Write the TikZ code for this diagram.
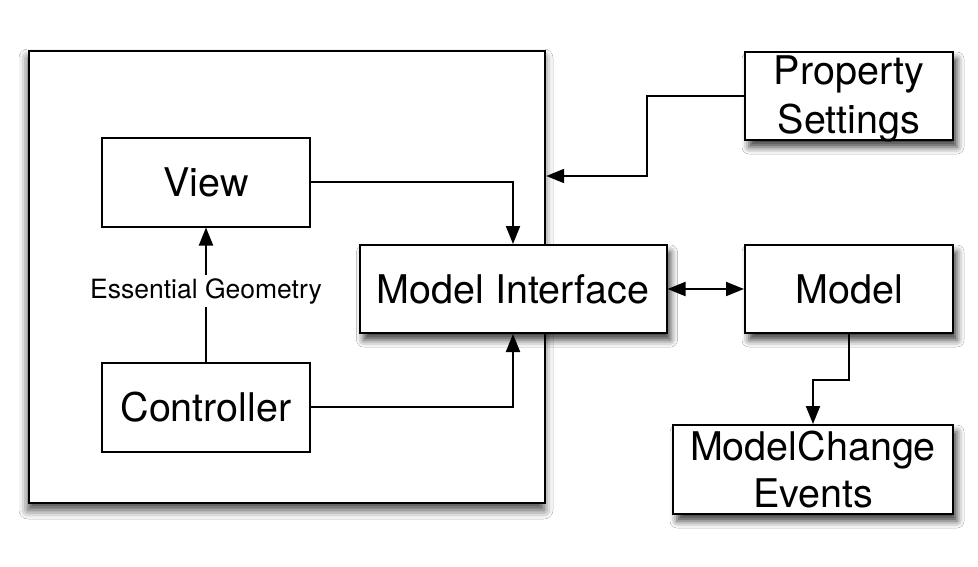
\documentclass[tikz,border=0pt]{standalone}
\usepackage{fontspec}
\setmainfont{TeX Gyre Heros}
\usetikzlibrary{arrows.meta,shadows.blur}
\begin{document}
\begin{tikzpicture}[x=1pt,y=-1pt]
\tikzset{
  blk/.style={draw=black, line width=2pt, fill=white, inner sep=0pt, align=center,
    font=\fontsize{39.5}{47}\selectfont},
  shd/.style={blur shadow={shadow xshift=4pt, shadow yshift=-7pt, shadow blur radius=7pt, shadow opacity=75}},
  conn/.style={line width=2pt},
  tip/.style={-{Triangle[length=18pt,width=14pt]}},
  dtip/.style={{Triangle[length=18pt,width=14pt]}-{Triangle[length=18pt,width=14pt]}},
  lbl/.style={fill=white, inner sep=3pt, font=\fontsize{26.5}{30}\selectfont}
}
\useasboundingbox (0,0) rectangle (978,566);
\fill[white] (0,0) rectangle (978,566);

\node[draw=black, line width=2.4pt, fill=white, minimum width=516pt, minimum height=452pt,
  blur shadow={shadow xshift=-1pt, shadow yshift=-7pt, shadow blur radius=9pt, shadow opacity=75}]
  (outer) at (287,277) {};

\node[blk, minimum width=208pt, minimum height=89pt] (view) at (206,182) {View};
\node[blk, minimum width=208pt, minimum height=89pt] (ctrl) at (206,407) {Controller};
\node[blk, shd, minimum width=307pt, minimum height=88pt] (mi) at (513,289) {Model Interface};
\node[blk, shd, minimum width=208pt, minimum height=88pt, font=\fontsize{39.5}{49}\selectfont,
  text depth=2pt] (ps) at (849,96) {Property\\Settings};
\node[blk, shd, minimum width=208pt, minimum height=88pt] (model) at (849,289) {Model};
\node[blk, shd, minimum width=280pt, minimum height=89pt] (mce) at (813,469.5) {ModelChange\\Events};

\draw[conn,tip] (ctrl.north) -- (view.south);
\node[lbl] (eg) at (206,291) {Essential Geometry};

\draw[conn,tip] (view.east) -| (mi.north);
\draw[conn,tip] (ctrl.east) -| (mi.south);

\coordinate (bend) at (647,176);
\draw[conn,tip] (ps.west) -| (bend) -- (outer.east |- bend);

\draw[conn,dtip] (mi.east) -- (model.west);

\coordinate (mb) at (813,380);
\draw[conn,tip] (model.south) |- (mb) -- (mce.north);
\end{tikzpicture}
\end{document}
